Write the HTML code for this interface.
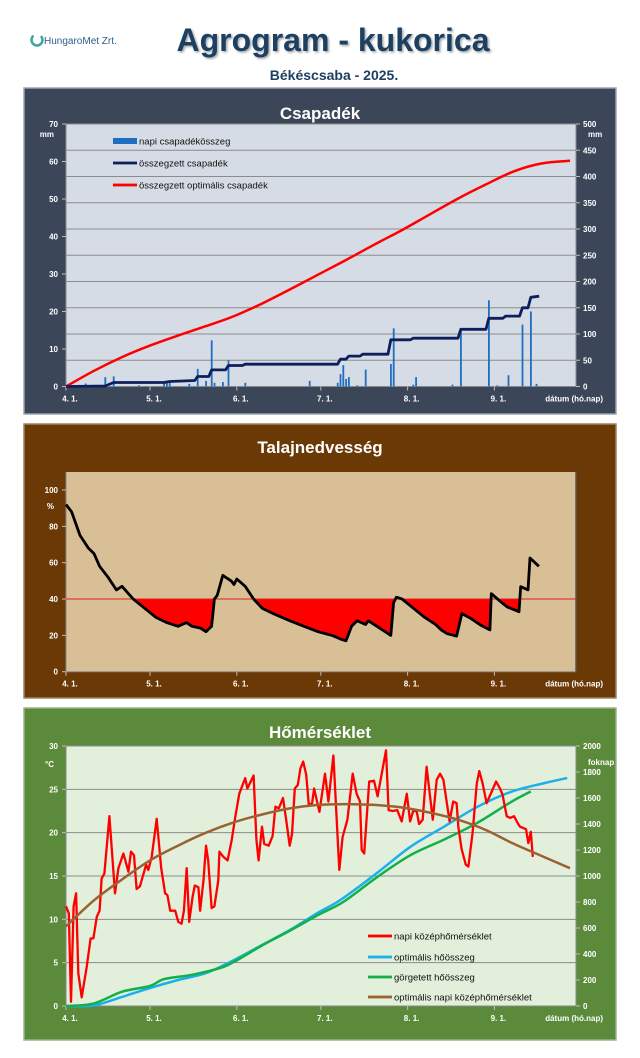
<!DOCTYPE html>
<html><head><meta charset="utf-8">
<style>
html,body{margin:0;padding:0;background:#fff;}
svg{display:block;font-family:"Liberation Sans",sans-serif;}
</style></head>
<body>
<svg id="c" width="640" height="1058" viewBox="0 0 640 1058" xmlns="http://www.w3.org/2000/svg">
<defs>
<filter id="sh" x="-5%" y="-5%" width="110%" height="120%"><feDropShadow dx="1.5" dy="1.5" stdDeviation="1" flood-color="#000" flood-opacity="0.35"/></filter>
<clipPath id="belowForty"><rect x="66" y="599.3" width="510" height="80"/></clipPath>
</defs>
<g>
<circle cx="37" cy="40" r="5.5" fill="none" stroke="#3aa7a0" stroke-width="2.5" stroke-dasharray="22 8"/>
<text x="44" y="44" font-size="10" fill="#2c5d87">HungaroMet Zrt.</text>
</g>
<text x="333" y="51" text-anchor="middle" font-size="32" font-weight="bold" fill="#1f3f62" filter="url(#sh)">Agrogram - kukorica</text>
<text x="334" y="80" text-anchor="middle" font-size="14" font-weight="bold" fill="#1f3f62">Békéscsaba - 2025.</text>

<g>
<rect x="24" y="88" width="592" height="326" fill="#3b4659" stroke="#9aa3ae" stroke-width="1.5"/>
<text x="320" y="119" text-anchor="middle" font-size="17" font-weight="bold" fill="#fff">Csapadék</text>
<rect x="66" y="124" width="510" height="262.5" fill="#d6dce5"/>
<g id="p1"></g>
</g>
<g>
<rect x="24" y="424" width="592" height="274" fill="#6b3906" stroke="#a28262" stroke-width="1.5"/>
<text x="320" y="453" text-anchor="middle" font-size="17" font-weight="bold" fill="#fff">Talajnedvesség</text>
<rect x="66" y="472" width="510" height="199.7" fill="#d9bf96"/>
<g id="p2"></g>
</g>
<g>
<rect x="24" y="708" width="592" height="332" fill="#5b8a3a" stroke="#9bb38a" stroke-width="1.5"/>
<text x="320" y="738" text-anchor="middle" font-size="17" font-weight="bold" fill="#fff">Hőmérséklet</text>
<rect x="66" y="746" width="510" height="260" fill="#e2efda"/>
<g id="p3"></g>
</g>
</svg>
<script>
// ---------- data ----------
const dateTickDays = [0, 30, 61, 91, 122, 153];
const dateTickLabels = ["4. 1.", "5. 1.", "6. 1.", "7. 1.", "8. 1.", "9. 1."];

const rainDays = [7,14,17,26,35,36,37,44,47,50,52,53,56,58,64,87,97,98,99,100,101,104,107,116,117,124,125,138,141,151,154,158,163,166,168];
const rainMm   = [0.8,2.5,2.7,0.3,1,1,1,0.7,4.7,1.5,12.3,1,1.2,7,1,1.5,1,3.3,5.7,2,2.5,0.3,4.5,6,15.5,0.5,2.5,0.5,15.5,23,0.3,3,16.5,20,0.7];
const cumDays = [0,14,17,35,37,46,47,51,52,57,58,63,64,97,98,100,101,105,106,115,116,123,124,140,141,150,151,156,157,162,163,165,166,169];
const cumMm   = [0,1,7.6,7.6,9.5,11.4,19,19,31.7,31.7,40,40,42.5,42.5,52,52,58,58,61.5,61.5,89,89,92,92,109,109,130,130,134,134,150,150,170,172];
const optRainDays = [0,10,20,30,40,50,60,70,80,90,100,110,120,130,140,150,160,170,180];
const optRainMm   = [0,30,56,78,97,115,134,158,185,213,241,270,298,328,358,385,410,425,430];
const precipLeftTicks = [0,10,20,30,40,50,60,70];
const precipRightTicks = [0,50,100,150,200,250,300,350,400,450,500];

const soilDays = [0,2,5,8,10,12,15,18,20,24,28,32,36,40,43,45,48,50,52,53,54,56,59,60,61,64,67,70,74,80,85,90,95,98,100,102,104,107,108,112,116,117,118,120,124,128,132,134,136,139.5,141.4,144.4,148,151.4,151.9,155.2,157.6,161.8,162.4,165,165.7,168.9];
const soilPct  = [92,88,75,68,65,58,52,45,47,40,35,30,27,25,27,25,24,22,25,40,42,53,50,48,51,47,40,35,32,28,25,22,20,18,17,25,28,26,28,24,20,38,41,40,35,30,26,23,21,19.6,32,29.5,25.7,23,43,38.5,35.6,33,46.8,45,62.6,58];
const soilThreshold = 40;
const soilTicks = [0,20,40,60,80,100];

const tempDays = [0,1,1.8,2.7,3.6,4.4,5.6,7.4,8.8,9.8,11,12,12.7,13.7,15.5,17.5,18.7,20.5,22.3,23.2,24.3,25.2,26.4,28.6,29.4,30.6,32.4,34,35.4,36.2,37.2,39,40.1,41.3,42.1,43.1,44,45.2,46,47.3,47.9,49.1,50,50.8,52,53,54.4,54.8,56.2,57.7,59.2,60.4,61.9,64,64.8,67,68,68.8,70,70.8,72.4,73.8,74.8,76,77.5,78.7,79.9,80.7,81.7,82.8,83.7,84.7,85.8,86.7,87.9,88.6,90.5,92.5,93.7,95.5,97.6,98.8,100.5,102.4,103.8,105,105.6,106.5,108.3,110,111.3,114.3,115.2,116.7,118.3,119.9,121.7,122.9,124,125.2,126.1,127.4,128.8,131,132.4,133.6,134.8,137,138.3,139.5,140.1,141.3,142.8,143.7,145.2,146.7,147.6,148.8,150.2,152,153.6,155,155.9,157.4,158.6,160,161.5,162.1,164.3,165.1,166,166.7];
const tempC = [11.5,10.7,0.5,11.5,13,3.8,1,4.5,7.8,7.8,10.3,11,14.7,15.3,21.9,13,15.9,17.6,15.5,17.8,17.4,13.5,13.8,16.3,15.7,17.2,21.6,15.9,13,12.8,11,11,9.7,9.5,11,15.9,9.7,12.6,13.9,13.7,11,14.5,18.5,16.8,11.3,11.5,14.5,17.8,17.2,16.8,19.2,21.7,24.5,26.3,25.1,26.6,19.2,16.8,20.7,18.7,18.5,19.6,23,22.8,24,21.3,18.5,19.8,25.1,25.5,27.4,28.2,26.7,23.2,23.4,25.1,22.4,26.8,23.6,28.9,15.7,19.5,21.5,26.8,24.5,23.6,18,17.6,25.9,26,24.2,29.5,22.6,22.5,22.6,21.3,24.5,21.3,22.5,22.5,21,21.5,27.6,21.5,26.1,26.8,26.1,21.3,23.6,23.4,20.7,18.1,16.3,16.1,20,25.7,27.1,25.7,23.4,24.7,25.9,25.1,24.4,21.9,21.7,21.9,21,20.7,20.4,18.8,20.1,17.2];
const optTempDays = [0,10,20,30,40,50,60,70,80,90,100,110,120,130,140,150,160,170,180];
const optTempC = [9.2,12.2,14.6,16.8,18.5,20,21.2,22.1,22.8,23.2,23.3,23.2,22.9,22.3,21.5,20.3,18.7,17.3,15.9];
const heatDays = [0,10,20,30,40,50,60,70,80,90,98,111,123,135,147,159,171,179];
const optHeatSum = [0,5,70,138,200,253,354,469,585,718,815,1022,1225,1379,1533,1648,1715,1754];
const rollDays = [0,10,20,30,35,45,55,60,70,80,90,99,111,123,135,147,159,166];
const rollHeatSum = [0,20,110,154,207,240,292,340,465,580,700,800,990,1160,1280,1410,1570,1650];
const tempLeftTicks = [0,5,10,15,20,25,30];
const tempRightTicks = [0,200,400,600,800,1000,1200,1400,1600,1800,2000];

// ---------- helpers ----------
const NS = "http://www.w3.org/2000/svg";
function mk(parent, tag, attrs, txt) {
  const e = document.createElementNS(NS, tag);
  for (const k in attrs) e.setAttribute(k, attrs[k]);
  if (txt !== undefined) e.textContent = txt;
  parent.appendChild(e);
  return e;
}
const X0 = 66, X1 = 576, PXD = 2.8;
const xs = d => X0 + d * PXD;
function lin(v0, v1, p0, p1) { return v => p0 + (v - v0) / (v1 - v0) * (p1 - p0); }
function pts(days, vals, ys) { return days.map((d, i) => xs(d).toFixed(1) + "," + ys(vals[i]).toFixed(1)).join(" "); }
function smooth(days, vals, ys) {
  const p = days.map((d, i) => [xs(d), ys(vals[i])]);
  let s = "M" + p[0][0].toFixed(1) + "," + p[0][1].toFixed(1);
  for (let i = 0; i < p.length - 1; i++) {
    const p0 = p[i - 1] || p[i], p1 = p[i], p2 = p[i + 1], p3 = p[i + 2] || p2;
    const c1 = [p1[0] + (p2[0] - p0[0]) / 6, p1[1] + (p2[1] - p0[1]) / 6];
    const c2 = [p2[0] - (p3[0] - p1[0]) / 6, p2[1] - (p3[1] - p1[1]) / 6];
    s += " C" + c1[0].toFixed(1) + "," + c1[1].toFixed(1) + " " + c2[0].toFixed(1) + "," + c2[1].toFixed(1) + " " + p2[0].toFixed(1) + "," + p2[1].toFixed(1);
  }
  return s;
}

function axes(g, top, bottom, yl, lTicks, yr, rTicks, gridTicks, gridScale, unitL, unitR, unitLy, unitRy) {
  gridTicks.forEach(t => {
    if (t === 0) return;
    const gl = mk(g, "line", {x1: X0, x2: X1, y1: gridScale(t), y2: gridScale(t), stroke: "#8c8c8c", "stroke-width": 1});
    
    
  });
  mk(g, "line", {x1: X0, x2: X0, y1: top, y2: bottom, stroke: "#888", "stroke-width": 1});
  mk(g, "line", {x1: X0, x2: X1, y1: bottom, y2: bottom, stroke: "#888", "stroke-width": 1});
  lTicks.forEach(t => {
    mk(g, "line", {x1: X0 - 4, x2: X0, y1: yl(t), y2: yl(t), stroke: "#bbb"});
    const tl = mk(g, "text", {x: X0 - 8, y: yl(t) + 3, "text-anchor": "end", "font-size": 8, "font-weight": "bold", fill: "#fff"}, String(t));
    
    
  });
  if (yr) {
    mk(g, "line", {x1: X1, x2: X1, y1: top, y2: bottom, stroke: "#888", "stroke-width": 1});
    rTicks.forEach(t => {
      mk(g, "line", {x1: X1, x2: X1 + 4, y1: yr(t), y2: yr(t), stroke: "#bbb"});
      const tr = mk(g, "text", {x: X1 + 7, y: yr(t) + 3, "font-size": 8, "font-weight": "bold", fill: "#fff"}, String(t));
      
      
    });
  } else {
    mk(g, "line", {x1: X1, x2: X1, y1: top, y2: bottom, stroke: "#555", "stroke-width": 1.5});
  }
  const ul = mk(g, "text", {x: X0 - 12, y: unitLy, "text-anchor": "end", "font-size": 8, "font-weight": "bold", fill: "#fff"}, unitL);
  
  
  if (unitR) {
    const ur = mk(g, "text", {x: X1 + 12, y: unitRy, "font-size": 8, "font-weight": "bold", fill: "#fff"}, unitR);
    
    
  }
  dateTickDays.forEach((d, i) => {
    mk(g, "line", {x1: xs(d), x2: xs(d), y1: bottom, y2: bottom + 4, stroke: "#bbb"});
    const xl = mk(g, "text", {x: xs(d) + 4, y: bottom + 15, "text-anchor": "middle", "font-size": 8, "font-weight": "bold", fill: "#fff"}, dateTickLabels[i]);
    
    
  });
  const xt = mk(g, "text", {x: 603, y: bottom + 15, "text-anchor": "end", "font-size": 8, "font-weight": "bold", fill: "#fff"}, "dátum (hó.nap)");
  
  
}
function legendItem(g, x, y, color, w, label, name) {
  const lg = mk(g, "g", {});
  
  
  mk(lg, "rect", {x: x, y: y - w / 2, width: 24, height: w, fill: color});
  mk(lg, "text", {x: x + 26, y: y + 3.5, "font-size": 9.5, fill: "#111"}, label);
}

// ---------- panel 1: precipitation ----------
(function () {
  const g = document.getElementById("p1");
  const top = 124, bottom = 386.5;
  const yl = lin(0, 70, bottom, top), yr = lin(0, 500, bottom, top);
  axes(g, top, bottom, yl, precipLeftTicks, yr, precipRightTicks, precipRightTicks, yr, "mm", "mm", 137, 137);
  rainDays.forEach((d, i) => {
    const b = mk(g, "rect", {x: xs(d) - 0.8, y: yl(rainMm[i]), width: 1.8, height: bottom - yl(rainMm[i]), fill: "#1f6fc0"});
    
    
  });
  const opt = mk(g, "path", {d: smooth(optRainDays, optRainMm, yr), fill: "none", stroke: "#ff0000", "stroke-width": 2.5, "stroke-linejoin": "round"});
  
  
  const cum = mk(g, "polyline", {points: pts(cumDays, cumMm, yr), fill: "none", stroke: "#0d1f5c", "stroke-width": 2.8, "stroke-linejoin": "round"});
  
  
  legendItem(g, 113, 141, "#1f6fc0", 6, "napi csapadékösszeg", "legend-daily-rain");
  legendItem(g, 113, 163, "#0d1f5c", 2.8, "összegzett csapadék", "legend-cumulative-rain");
  legendItem(g, 113, 185, "#ff0000", 2.8, "összegzett optimális csapadék", "legend-optimal-rain");
})();

// ---------- panel 2: soil moisture ----------
(function () {
  const g = document.getElementById("p2");
  const top = 472, bottom = 671.7;
  const ys = lin(0, 100, bottom, 490);
  axes(g, top, bottom, ys, soilTicks, null, [], [], ys, "%", null, 509, 0);
  const yT = ys(soilThreshold);
  const area = pts(soilDays, soilPct, ys) + " " + xs(soilDays[soilDays.length - 1]).toFixed(1) + "," + yT + " " + xs(soilDays[0]).toFixed(1) + "," + yT;
  const f = mk(g, "polygon", {points: area, fill: "#ff0000", "clip-path": "url(#belowForty)"});
  
  
  const th = mk(g, "line", {x1: X0, x2: X1, y1: yT, y2: yT, stroke: "#e02020", "stroke-width": 1});
  
  
  const l = mk(g, "polyline", {points: pts(soilDays, soilPct, ys), fill: "none", stroke: "#000", "stroke-width": 2.8, "stroke-linejoin": "round"});
  
  
})();

// ---------- panel 3: temperature ----------
(function () {
  const g = document.getElementById("p3");
  const top = 746, bottom = 1006;
  const yl = lin(0, 30, bottom, top), yr = lin(0, 2000, bottom, top);
  axes(g, top, bottom, yl, tempLeftTicks, yr, tempRightTicks, tempLeftTicks, yl, "°C", "foknap", 767, 765);
  const oh = mk(g, "path", {d: smooth(heatDays, optHeatSum, yr), fill: "none", stroke: "#1ab0ee", "stroke-width": 2.5, "stroke-linejoin": "round"});
  
  
  const rh = mk(g, "path", {d: smooth(rollDays, rollHeatSum, yr), fill: "none", stroke: "#13b04a", "stroke-width": 2.5, "stroke-linejoin": "round"});
  
  
  const t = mk(g, "polyline", {points: pts(tempDays, tempC, yl), fill: "none", stroke: "#ff0000", "stroke-width": 2.3, "stroke-linejoin": "round"});
  
  
  const ot = mk(g, "path", {d: smooth(optTempDays, optTempC, yl), fill: "none", stroke: "#9a6232", "stroke-width": 2.5, "stroke-linejoin": "round"});
  
  
  legendItem(g, 368, 936, "#ff0000", 2.8, "napi középhőmérséklet", "legend-daily-temp");
  legendItem(g, 368, 957, "#1ab0ee", 2.8, "optimális hőösszeg", "legend-optimal-heat");
  legendItem(g, 368, 977, "#13b04a", 2.8, "görgetett hőösszeg", "legend-rolling-heat");
  legendItem(g, 368, 997, "#9a6232", 2.8, "optimális napi középhőmérséklet", "legend-optimal-temp");
})();
</script>
</body></html>
